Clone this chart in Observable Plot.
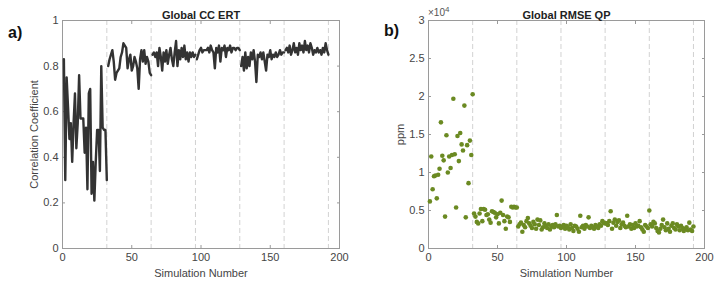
<!DOCTYPE html>
<html>
<head>
<meta charset="utf-8">
<script src="https://cdn.jsdelivr.net/npm/d3@7"></script>
<script src="https://cdn.jsdelivr.net/npm/@observablehq/plot@0.6"></script>
<style>
  body { margin: 0; background: #fff; font-family: "Liberation Sans", Arial, sans-serif; }
  #wrap { position: relative; width: 718px; height: 281px; overflow: hidden; }
  .panel { position: absolute; top: 0; }
  .tag { position: absolute; font-weight: bold; font-size: 16px; color: #111; }
  .exp { position: absolute; font-size: 10px; color: #555; }
  .exp sup { font-size: 8px; }
</style>
</head>
<body>
<div id="wrap">
  <div class="tag" style="left:8px;top:24px">a)</div>
  <div class="tag" style="left:384px;top:22px">b)</div>
  <div class="exp" style="left:428px;top:5px">&times;10<sup>4</sup></div>
</div>
<script>
// Global correlation coefficient of the ERT inversion, one value per simulation (runs of 32)
const ccErt = [
  // 1-32
  0.83,0.30,0.75,0.62,0.48,0.55,0.38,0.55,0.68,0.44,0.55,0.76,0.57,0.57,0.57,0.42,
  0.53,0.26,0.68,0.70,0.24,0.38,0.21,0.38,0.52,0.52,0.34,0.80,0.53,0.52,0.52,0.30,
  // 33-64
  0.80,0.83,0.85,0.87,0.82,0.74,0.77,0.78,0.79,0.84,0.86,0.90,0.89,0.88,0.79,0.83,
  0.85,0.78,0.80,0.84,0.82,0.79,0.70,0.83,0.87,0.82,0.87,0.81,0.84,0.82,0.77,0.76,
  // 65-96
  0.85,0.86,0.84,0.86,0.80,0.88,0.84,0.78,0.86,0.82,0.87,0.81,0.85,0.88,0.83,0.80,
  0.86,0.91,0.80,0.87,0.83,0.88,0.84,0.89,0.83,0.86,0.82,0.86,0.84,0.86,0.84,0.85,
  // 97-128
  0.83,0.85,0.87,0.88,0.86,0.87,0.87,0.87,0.88,0.86,0.89,0.87,0.86,0.79,0.88,0.86,
  0.89,0.82,0.88,0.87,0.89,0.84,0.88,0.87,0.89,0.86,0.88,0.88,0.87,0.88,0.88,0.87,
  // 129-160
  0.80,0.84,0.78,0.86,0.79,0.84,0.80,0.86,0.83,0.87,0.82,0.73,0.85,0.84,0.86,0.83,
  0.86,0.82,0.78,0.85,0.84,0.87,0.83,0.85,0.84,0.86,0.84,0.85,0.87,0.85,0.86,0.86,
  // 161-192
  0.87,0.88,0.86,0.89,0.85,0.87,0.90,0.86,0.88,0.85,0.90,0.87,0.89,0.86,0.91,0.87,
  0.89,0.86,0.90,0.88,0.85,0.87,0.86,0.88,0.86,0.87,0.85,0.88,0.86,0.90,0.87,0.85
];

// Global RMSE of the QP estimate in ppm, one value per simulation
const rmseQp = [
  // 1-32
  6200,12100,7800,9500,9600,6600,9700,10500,16600,12200,11600,4200,14900,10000,12100,10600,
  12300,19700,12400,5400,14800,11500,15200,13700,12900,18800,4100,13600,8600,14200,12300,20300,
  // 33-64
  4600,4200,3500,3300,4600,5200,3600,5200,5100,4400,4500,3800,3400,4900,4800,4700,
  4100,4500,3300,4700,6300,4400,3600,2600,4200,4100,3500,5500,5400,5500,5400,5400,
  // 65-96
  2900,3200,3400,2200,3100,2800,3600,4000,3300,3000,2700,3500,3200,2600,3800,3100,
  3700,2500,2800,3300,3000,2700,3200,2500,2900,3100,2800,3200,4400,2900,3000,2700,
  // 97-128
  2900,3100,2600,3000,2800,2500,3200,2700,2300,3000,2900,2600,2200,4300,2800,3000,
  2600,3100,2900,4100,2700,3000,2800,2600,3100,2900,2700,3200,3000,3600,3400,3300,
  // 129-160
  3300,3100,3600,4900,2600,3400,3800,3000,3500,3700,2700,3200,3400,3000,2800,4300,
  2900,3200,2600,3100,2700,3300,2900,3000,3600,2800,2500,2200,3100,2900,2700,5000,
  // 161-192
  3200,2900,3500,3300,2700,2300,2100,2600,3100,3800,2800,2400,3300,2600,2200,3000,
  3300,2700,2500,3200,2900,2400,3000,2700,2300,2600,2800,2400,3400,2500,2300,2900
];

const runLength = 32;
const runBoundaries = [32, 64, 96, 128, 160, 192];
const xTicks = [0, 50, 100, 150, 200];
const ccTicks = [0, 0.2, 0.4, 0.6, 0.8, 1];
const rmseTicks = [0, 5000, 10000, 15000, 20000, 25000, 30000];

const ccRows = ccErt.map((v, i) => ({sim: i + 1, run: Math.floor(i / runLength), value: v}));
const rmseRows = rmseQp.map((v, i) => ({sim: i + 1, value: v}));

const axisColor = "#9a9a9a";
const textColor = "#454545";

function frameMarks(yTicks, yFormat, yLabel, yLabelOffset) {
  return [
    Plot.ruleX(runBoundaries, {stroke: "#d2d2d2", strokeDasharray: "5,3", strokeWidth: 1}),
    Plot.frame({stroke: axisColor}),
    Plot.axisX({anchor: "bottom", ticks: xTicks, tickSize: -3, tickPadding: 8, stroke: axisColor, fill: textColor,
      label: "Simulation Number", labelAnchor: "center", labelArrow: "none", labelOffset: 28}),
    Plot.axisX({anchor: "top", ticks: xTicks, tickSize: -3, tickFormat: () => "", stroke: axisColor, label: null}),
    Plot.axisY({anchor: "left", ticks: yTicks, tickSize: -3, tickPadding: 7, tickFormat: yFormat, stroke: axisColor, fill: textColor,
      label: yLabel, labelAnchor: "center", labelArrow: "none", labelOffset: yLabelOffset}),
    Plot.axisY({anchor: "right", ticks: yTicks, tickSize: -3, tickFormat: () => "", stroke: axisColor, label: null})
  ];
}

const common = {
  width: 359, height: 281, marginTop: 20, marginBottom: 33,
  style: {fontFamily: "'Liberation Sans', Arial, sans-serif", fontSize: "11px", color: textColor, background: "transparent"}
};

const plotA = Plot.plot({
  ...common,
  marginLeft: 62, marginRight: 20,
  x: {domain: [0, 200]},
  y: {domain: [0, 1]},
  marks: [
    ...frameMarks(ccTicks, d => String(d), "Correlation Coefficient", 32),
    Plot.line(ccRows, {x: "sim", y: "value", z: "run", stroke: "#333333", strokeWidth: 2.4, strokeLinejoin: "round"}),
    Plot.text(["Global CC ERT"], {text: d => d, frameAnchor: "top", dy: -9, fontWeight: "bold", fontSize: 11, fill: "#222"})
  ]
});

const plotB = Plot.plot({
  ...common,
  marginLeft: 69, marginRight: 14,
  x: {domain: [0, 200]},
  y: {domain: [0, 30000]},
  marks: [
    ...frameMarks(rmseTicks, d => String(d / 10000), "ppm", 32),
    Plot.dot(rmseRows, {x: "sim", y: "value", r: 2.3, fill: "#6b8a22", stroke: "none"}),
    Plot.text(["Global RMSE QP"], {text: d => d, frameAnchor: "top", dy: -9, fontWeight: "bold", fontSize: 11, fill: "#222"})
  ]
});

const wrap = document.getElementById("wrap");
plotA.classList.add("panel");
plotA.style.left = "0px";
plotB.classList.add("panel");
plotB.style.left = "359px";
wrap.insertBefore(plotB, wrap.firstChild);
wrap.insertBefore(plotA, wrap.firstChild);
</script>
</body>
</html>
